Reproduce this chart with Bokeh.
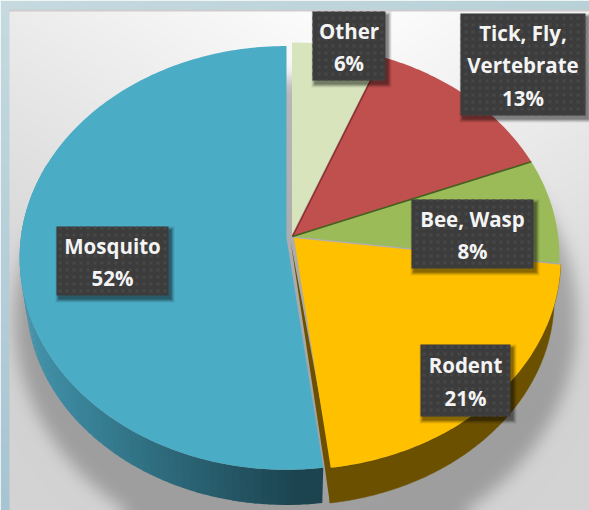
import numpy as np
from bokeh.core.properties import value
from bokeh.embed import file_html
from bokeh.plotting import figure
from bokeh.resources import INLINE

# Shares of the pie, clockwise from twelve o'clock
categories = ["Other", "Tick, Fly,\nVertebrate", "Bee, Wasp", "Rodent", "Mosquito"]
shares = [6, 13, 8, 21, 52]
face_colors = ["#d8e4bc", "#c0504d", "#9bbb59", "#ffc000", "#4bacc6"]
seam_colors = [None, "#8c2f2d", "#44601f", None, None]

W, H = 589, 510
CX, CY = 292.0, 236.0
RX, RY = 265.7, 210.0
TILT = 0.094
DEPTH = 41.0
LOWER_SCALE = 0.975


def rim(angle, cx=CX, cy=CY, scale=1.0):
    """Project a point of the tilted disc; angle in radians, clockwise from the top."""
    u, v = np.sin(angle), np.cos(angle)
    w = 1 + TILT * v
    return cx + scale * RX * u / w, cy - scale * RY * v / w


def arc(a0, a1, **kw):
    n = max(3, int(abs(a1 - a0) / np.radians(1.0)))
    return rim(np.linspace(a0, a1, n), **kw)


def flip(py):
    return H - np.asarray(py, dtype=float)


def blur(a, sigma):
    r = int(3 * sigma)
    k = np.exp(-0.5 * (np.arange(-r, r + 1) / sigma) ** 2)
    k /= k.sum()
    pad = np.pad(a, r, mode="edge")
    pad = np.apply_along_axis(lambda m: np.convolve(m, k, mode="same"), 0, pad)
    pad = np.apply_along_axis(lambda m: np.convolve(m, k, mode="same"), 1, pad)
    return pad[r:-r, r:-r]


def backdrop():
    """Slide frame, pale panel and the soft shadow thrown by the pie."""
    yy, xx = np.mgrid[0:H, 0:W].astype(float)
    drop = 18 * np.clip(np.abs(xx - 350) / 340, 0, 1) + 40 * yy / 480
    grey = 255 - np.minimum(drop, 44)

    hit = ((xx - 295) / 281) ** 2 + ((yy - 318) / 240) ** 2 < 1
    shade = blur(hit.astype(float), 8.0)
    grey = grey * (1 - 0.25 * shade)

    rgb = np.stack([grey, grey, grey], axis=-1)
    band = np.stack([
        198 - 30 * yy / H + 0 * xx,
        218 - 22 * yy / H,
        224 - 14 * yy / H,
    ], axis=-1)
    band[..., 0] -= 14 * xx / W * (yy < 10)
    band[..., 1] -= 8 * xx / W * (yy < 10)
    band[..., 2] -= 8 * xx / W * (yy < 10)
    outside = (xx < 9) | (yy < 10)
    rgb[outside] = band[outside]
    rgb[(yy >= 9) & (yy < 11) & (xx >= 9)] = 205

    img = np.zeros((H, W), dtype=np.uint32)
    view = img.view(dtype=np.uint8).reshape((H, W, 4))
    view[..., :3] = np.clip(rgb, 0, 255).astype(np.uint8)
    view[..., 3] = 255
    return img[::-1]


p = figure(width=W, height=H, x_range=(0, W), y_range=(0, H), output_backend="svg",
           toolbar_location=None, min_border=0, outline_line_color=None)
p.axis.visible = False
p.grid.visible = False

p.image_rgba(image=[backdrop()], x=0, y=0, dw=W, dh=H)

# Cumulative angles of the slice boundaries
edges = np.radians(np.concatenate([[0], np.cumsum(shares)]) * 3.6)

# How far each slice sits from the common centre
offsets = [(-0.5, -2.0), (0.0, 0.0), (0.0, 0.0), (1.5, 1.5), (-6.0, 1.5)]

# Outer wall of the rodent slice
a0, a1 = edges[3], edges[4]
rdx, rdy = offsets[3]
x_top, y_top = arc(a0, a1, cx=CX + rdx, cy=CY + rdy)
x_low, y_low = arc(a0, a1, cx=CX + rdx, cy=CY + rdy + DEPTH, scale=LOWER_SCALE)
p.patch(np.r_[x_top, x_low[::-1]], flip(np.r_[y_top, y_low[::-1]]),
        fill_color="#6b5000", line_color="#6b5000", line_width=0.5)

# Cut face of the rodent slice, visible through the gap
ex, ey = rim(a1, cx=CX + rdx, cy=CY + rdy)
lx, ly = rim(a1, cx=CX + rdx, cy=CY + rdy + DEPTH, scale=LOWER_SCALE)
p.patch([CX - 2, ex + 2, lx, ex - 6], flip([CY + 4, ey, ly, ey - 1]),
        fill_color="#6b5000", line_color=None)

# Outer wall of the mosquito slice, shaded segment by segment from left to bottom
a0, a1 = edges[4], edges[5]
mdx, mdy = offsets[4]
mcx, mcy = CX + mdx, CY + mdy
seg = np.radians(np.arange(np.degrees(a0), 292, 1.5))
light, dark = np.array([0x41, 0x93, 0xab]), np.array([0x1c, 0x44, 0x50])
for s0, s1 in zip(seg[:-1], seg[1:]):
    tx, ty = rim(np.array([s0, s1 + 0.004]), cx=mcx, cy=mcy)
    bx, by = rim(np.array([s0, s1 + 0.004]), cx=mcx, cy=mcy + DEPTH, scale=LOWER_SCALE)
    t = np.clip((0.5 * (tx[0] + tx[1]) - 25) / 270, 0, 1)
    c = (1 - t) * light + t * dark
    p.patch([tx[0], tx[1], bx[1], bx[0]], flip([ty[0], ty[1], by[1], by[0]]),
            fill_color="#%02x%02x%02x" % tuple(int(v) for v in c), line_color=None)

# Top faces
for i, color in enumerate(face_colors):
    dx, dy = offsets[i]
    x, y = arc(edges[i], edges[i + 1], cx=CX + dx, cy=CY + dy)
    p.patch(np.r_[CX + dx, x], flip(np.r_[CY + dy, y]), fill_color=color, line_color=None)

# Thin dark seams where one slice meets the next
for i, color in enumerate(seam_colors):
    if color:
        x, y = rim(edges[i])
        p.line([CX, x], flip([CY, y]), line_color=color, line_width=1.6)

# Data labels: (left, top, right, bottom) of each box
boxes = [(312, 11, 385, 80), (460, 13, 585, 115), (411, 199, 533, 268),
         (420, 344, 510, 416), (56, 226, 168, 295)]

for (l, t, r, b), name, share in zip(boxes, categories, shares):
    for grow, alpha in ((3, 0.08), (2, 0.12), (1, 0.16), (0, 0.2)):
        p.quad(left=l + 2 - grow, right=r + 3 + grow, top=flip(t + 3 - grow), bottom=flip(b + 4 + grow),
               fill_color="#000000", fill_alpha=alpha, line_color=None)
    p.quad(left=l, right=r, top=flip(t), bottom=flip(b), fill_color="#3c3c3c", line_color=None,
           hatch_pattern="dot", hatch_color="#474747", hatch_scale=7, hatch_weight=1)
    p.text(x=[(l + r) / 2], y=flip([(t + b) / 2 + 1]), text=[f"{name}\n{share}%"],
           text_font=value("Open Sans"), text_font_style="bold", text_font_size="20.5px",
           text_color="#f4f4f4", text_align="center", text_baseline="middle",
           text_line_height=1.15)

open("out.html", "w").write(file_html(p, INLINE))
